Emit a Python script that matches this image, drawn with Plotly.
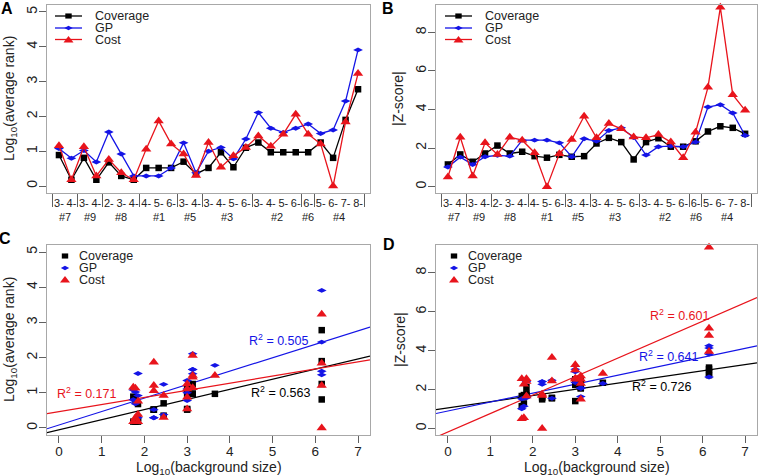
import numpy as np
import plotly.graph_objects as go

W, H = 760, 476

# ---------------- data ----------------
categories = ["3-", "4-", "3-", "4-", "2-", "3-", "4-", "4-", "5-", "6-", "3-", "4-",
              "3-", "4-", "5-", "6-", "3-", "4-", "5-", "6-", "6-", "5-", "6-", "7-", "8-"]
groups = ["#7", "#7", "#9", "#9", "#8", "#8", "#8", "#1", "#1", "#1", "#5", "#5",
          "#3", "#3", "#3", "#3", "#2", "#2", "#2", "#2", "#6", "#4", "#4", "#4", "#4"]
group_names = ["#7", "#9", "#8", "#1", "#5", "#3", "#2", "#6", "#4"]
group_log_bg = [1.74, 1.79, 1.85, 2.22, 2.45, 3.00, 3.13, 3.65, 6.15]

rank_coverage = [0.89, 0.18, 0.81, 0.18, 0.68, 0.29, 0.18, 0.52, 0.52, 0.52, 0.70, 0.35,
                 0.52, 0.97, 0.54, 1.10, 1.25, 0.97, 0.97, 0.97, 0.97, 1.25, 0.81, 1.90, 2.78]
rank_gp = [1.08, 0.80, 1.02, 0.69, 1.55, 0.92, 0.29, 0.29, 0.29, 0.52, 1.24, 0.38,
           1.00, 1.11, 0.78, 1.35, 2.11, 1.66, 1.54, 1.66, 1.78, 1.51, 1.61, 2.44, 3.91]
rank_cost = [1.16, 0.18, 1.13, 0.29, 0.76, 0.38, 0.18, 1.06, 1.87, 1.21, 0.92, 0.30,
             1.25, 0.54, 0.87, 1.11, 1.44, 1.14, 1.49, 2.06, 1.49, 1.21, 0.00, 1.84, 3.23]

z_coverage = [1.15, 1.67, 1.29, 1.72, 2.13, 1.72, 1.81, 1.58, 1.50, 1.65, 1.55, 1.58,
              2.24, 2.53, 2.31, 1.41, 2.31, 2.51, 2.07, 2.07, 2.35, 2.86, 3.13, 3.05, 2.74]
z_gp = [1.02, 1.53, 1.15, 1.55, 1.62, 1.58, 2.41, 2.41, 2.41, 2.27, 1.55, 2.48,
        2.36, 2.91, 3.05, 2.55, 1.64, 2.07, 2.10, 2.07, 2.31, 4.13, 4.25, 3.82, 2.65]
z_cost = [0.50, 2.56, 0.55, 2.27, 1.67, 2.56, 2.41, 1.76, 0.00, 1.70, 2.44, 3.65,
          2.53, 3.27, 3.00, 2.58, 2.53, 2.70, 2.31, 1.50, 2.82, 5.15, 9.30, 4.77, 3.96]

series_names = ["Coverage", "GP", "Cost"]
r2_rank_labels = ["0.563", "0.505", "0.171"]
r2_z_labels = ["0.726", "0.641", "0.601"]

# ---------------- style ----------------
FONT = "Liberation Sans, Arial, Helvetica, sans-serif"
colors = ["#000000", "#1414e6", "#e8141c"]
symbols = ["square", "diamond-wide", "triangle-up"]
msizes = [6.5, 7, 9]
BOX = "#a8a8a8"
TICKC = "#606060"
TXT = "#222222"

idx = list(range(1, len(categories) + 1))
bg_map = dict(zip(group_names, group_log_bg))
x_bg = [bg_map[g] for g in groups]

XR_CAT = [0.04, 25.96]
XR_BG = [-0.28, 7.28]
YR_RANK = [-0.2, 5.2]
YR_Z = [-0.33, 9.42]

# pixel boxes (left, right, top, bottom)
boxes = {
    "A": (47, 370, 5, 193),
    "B": (436, 757, 5, 193),
    "C": (47, 370, 245, 435),
    "D": (436, 757, 245, 435),
}


def px(x):
    return x / W


def py(y):
    return 1 - y / H


fig = go.Figure()

rank_series = [rank_coverage, rank_gp, rank_cost]
z_series = [z_coverage, z_gp, z_cost]

# Panel A and B: line + marker
for axn, data in (("", rank_series), ("2", z_series)):
    for i in range(3):
        fig.add_trace(go.Scatter(
            x=idx, y=data[i], mode="lines+markers", name=series_names[i],
            xaxis="x" + axn, yaxis="y" + axn, showlegend=False, cliponaxis=False,
            line=dict(color=colors[i], width=1.3),
            marker=dict(symbol=symbols[i], size=msizes[i], color=colors[i]),
        ))

# Panel C and D: scatter + fitted lines
for axn, data, labels in (("3", rank_series, r2_rank_labels), ("4", z_series, r2_z_labels)):
    for i in range(3):
        slope, intercept = np.polyfit(np.array(x_bg), np.array(data[i]), 1)
        xl = np.array(XR_BG)
        fig.add_trace(go.Scatter(
            x=xl, y=slope * xl + intercept, mode="lines", xaxis="x" + axn, yaxis="y" + axn,
            showlegend=False, line=dict(color=colors[i], width=1.2), hoverinfo="skip",
        ))
    for i in range(3):
        fig.add_trace(go.Scatter(
            x=x_bg, y=data[i], mode="markers", name=series_names[i],
            xaxis="x" + axn, yaxis="y" + axn, showlegend=False, cliponaxis=False,
            marker=dict(symbol=symbols[i], size=msizes[i], color=colors[i]),
        ))

base_axis = dict(showline=True, mirror=True, linecolor=BOX, linewidth=1, showgrid=False,
                 zeroline=False, ticks="outside", ticklen=7, tickcolor=TICKC, tickwidth=1,
                 tickfont=dict(size=14, color=TXT, family=FONT))

boundaries = [0.5] + [i + 1.5 for i in range(len(groups) - 1) if groups[i] != groups[i + 1]] + [len(groups) + 0.5]

layout_axes = {}
for key, axn in (("A", ""), ("B", "2"), ("C", "3"), ("D", "4")):
    l, r, t, b = boxes[key]
    xa = dict(base_axis, domain=[px(l), px(r)], anchor="y" + axn)
    ya = dict(base_axis, domain=[py(b), py(t)], anchor="x" + axn, tickangle=-90,
              ticklabelstandoff=-4)
    if key in ("A", "B"):
        xa.update(range=XR_CAT, tickmode="array", tickvals=idx, ticktext=categories,
                  ticks="", tickangle=0, tickfont=dict(size=11, color=TXT, family=FONT),
                  minor=dict(tickmode="array", tickvals=boundaries, ticks="outside",
                             ticklen=13, tickcolor=TICKC, tickwidth=1))
    else:
        xa.update(range=XR_BG, tickmode="array", tickvals=list(range(0, 8)),
                  ticklabelstandoff=-3, tickfont=dict(size=13.5, color=TXT, family=FONT))
    if key in ("A", "C"):
        ya.update(range=YR_RANK, tickmode="array", tickvals=[0, 1, 2, 3, 4, 5])
    else:
        ya.update(range=YR_Z, tickmode="array", tickvals=[0, 2, 4, 6, 8])
    layout_axes["xaxis" + axn] = xa
    layout_axes["yaxis" + axn] = ya

annotations = []
shapes = []

# panel letters
for letter, (x0, y0) in {"A": (7, 8), "B": (388, 8), "C": (5, 238), "D": (389, 245)}.items():
    annotations.append(dict(x=px(x0), y=py(y0), xref="paper", yref="paper", text="<b>%s</b>" % letter,
                            showarrow=False, font=dict(size=16, family=FONT, color="#000"),
                            xanchor="center", yanchor="middle"))

# axis titles
ytitles = {"A": ("Log<sub>10</sub>(average rank)", 10), "B": ("|Z-score|", 398),
           "C": ("Log<sub>10</sub>(average rank)", 10), "D": ("|Z-score|", 400)}
for key, (txt, xpix) in ytitles.items():
    l, r, t, b = boxes[key]
    annotations.append(dict(x=px(xpix), y=py((t + b) / 2), xref="paper", yref="paper", text=txt,
                            textangle=-90, showarrow=False, font=dict(size=14, family=FONT, color=TXT),
                            xanchor="center", yanchor="middle"))
for key in ("C", "D"):
    l, r, t, b = boxes[key]
    annotations.append(dict(x=px((l + r) / 2), y=py(468), xref="paper", yref="paper",
                            text="Log<sub>10</sub>(background size)", showarrow=False,
                            font=dict(size=14, family=FONT, color=TXT), xanchor="center", yanchor="middle"))

# group labels under the category axes
for axn in ("x", "x2"):
    for g in group_names:
        members = [k for k, gg in zip(idx, groups) if gg == g]
        annotations.append(dict(x=float(np.mean(members)), y=py(217), xref=axn, yref="paper", text=g,
                                showarrow=False, font=dict(size=11, family=FONT, color=TXT),
                                xanchor="center", yanchor="middle"))

# R^2 labels (positions in data units of each panel)
r2_pos_rank = [(4.44, 1.02), (4.40, 2.51), (-0.10, 1.0)]
r2_pos_z = [(4.29, 2.19), (4.45, 3.73), (4.71, 5.82)]
for axn, labels, pos in (("3", r2_rank_labels, r2_pos_rank), ("4", r2_z_labels, r2_pos_z)):
    for i in range(3):
        annotations.append(dict(x=pos[i][0], y=pos[i][1], xref="x" + axn, yref="y" + axn,
                                text="R<sup>2</sup> = " + labels[i], showarrow=False,
                                font=dict(size=12.5, family=FONT, color=colors[i]),
                                xanchor="left", yanchor="middle"))


# manual legends
def marker_shape(i, cx, cy):
    c = colors[i]
    if i == 0:
        s = 3.2
        return dict(type="rect", xref="paper", yref="paper", x0=px(cx - s), x1=px(cx + s),
                    y0=py(cy + s * 0.8), y1=py(cy - s * 0.8), fillcolor=c, line=dict(width=0))
    if i == 1:
        return dict(type="path", xref="paper", yref="paper",
                    path="M %f %f L %f %f L %f %f L %f %f Z" % (
                        px(cx - 4.2), py(cy), px(cx), py(cy - 2.3), px(cx + 4.2), py(cy), px(cx), py(cy + 2.3)),
                    fillcolor=c, line=dict(width=0))
    return dict(type="path", xref="paper", yref="paper",
                path="M %f %f L %f %f L %f %f Z" % (
                    px(cx - 5), py(cy + 3), px(cx + 5), py(cy + 3), px(cx), py(cy - 3.5)),
                fillcolor=c, line=dict(width=0))


legend_rows = {"A": [16, 28, 39.5], "B": [16, 28, 39.5], "C": [256, 268, 279.5], "D": [256, 268, 279.5]}
legend_cfg = {"A": (55, 82, 93, True), "B": (445, 472, 483, True),
              "C": (65, 65, 77, False), "D": (454, 454, 466, False)}
for key, (x0, x1, tx, with_line) in legend_cfg.items():
    for i, yy in enumerate(legend_rows[key]):
        cx = (x0 + x1) / 2
        if with_line:
            shapes.append(dict(type="line", xref="paper", yref="paper", x0=px(x0), x1=px(x1),
                               y0=py(yy), y1=py(yy), line=dict(color=colors[i], width=1.3)))
        shapes.append(marker_shape(i, cx, yy))
        annotations.append(dict(x=px(tx), y=py(yy), xref="paper", yref="paper", text=series_names[i],
                                showarrow=False, font=dict(size=12.5, family=FONT, color=TXT),
                                xanchor="left", yanchor="middle"))

fig.update_layout(
    width=W, height=H, margin=dict(l=0, r=0, t=0, b=0),
    paper_bgcolor="white", plot_bgcolor="white",
    font=dict(family=FONT, color=TXT),
    showlegend=False, annotations=annotations, shapes=shapes,
    **layout_axes,
)

fig.write_html("out.html", config={"displayModeBar": False},
               post_script="document.body.style.margin='0';document.body.style.padding='0';"
                           "document.body.style.overflow='hidden';")
